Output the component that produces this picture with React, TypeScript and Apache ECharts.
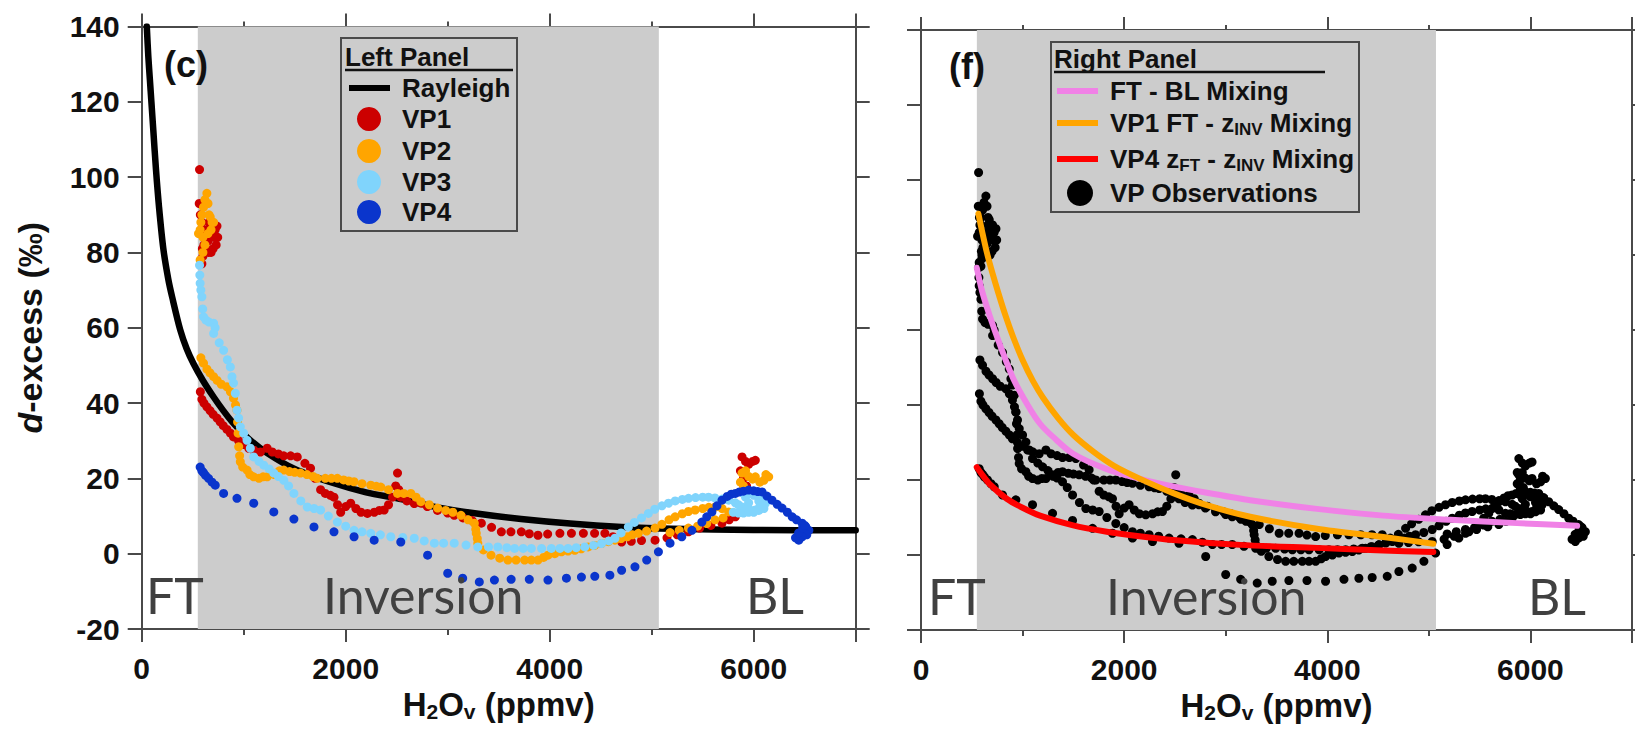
import { useEffect, useRef } from "react";
import * as echarts from "echarts";

// ---------- data (H2Ov ppmv, d-excess ‰) ----------
const X_MIN = 0;
const X_MAX = 7000;
const Y_MIN = -20;
const Y_MAX = 140;
const inversionZone = [550, 5070];

const rayleigh = [
  [50, 140], [65, 132], [80, 126], [95, 120], [115, 112], [140, 102], [170, 92], [212, 81], [260, 73],
  [300, 68], [377, 59.5], [440, 54.5], [507, 50.5], [600, 46], [705, 41.6], [800, 38], [900, 34.6],
  [1050, 30.5], [1230, 26.7], [1500, 22.5], [1885, 18.7], [2200, 16.3], [2540, 14.5], [2900, 12.3],
  [3300, 10.6], [3720, 9.2], [4200, 8], [4705, 7.1], [5200, 6.6], [6000, 6.3], [7000, 6.2],
];

const vp1 = [
  [567, 102], [564, 93], [575, 90], [590, 88], [610, 86], [625, 84], [640, 86], [660, 88], [690, 87], [720, 86],
  [738, 87], [745, 84], [730, 82], [700, 81], [680, 80], [655, 80], [630, 81], [610, 82], [595, 81], [590, 77],
  [600, 79], [650, 83], [710, 84],
  [575, 43], [590, 41], [610, 40], [639, 39], [670, 38], [700, 37], [738, 36], [770, 35], [800, 34], [836, 33],
  [870, 32], [900, 31], [950, 30], [1000, 29], [1050, 28], [1100, 27.5], [1164, 27], [1230, 28], [1280, 27],
  [1340, 26.5], [1393, 26], [1460, 26], [1525, 25.7], [1600, 24], [1655, 22.7], [1700, 20], [1754, 17],
  [1800, 16], [1850, 15.5], [1885, 15], [1920, 13], [1951, 11], [2000, 12.5], [2049, 13.4], [2100, 12],
  [2150, 11], [2213, 10.7], [2280, 11], [2330, 11.5], [2377, 11.6], [2420, 13], [2460, 15], [2490, 18],
  [2508, 21.4], [2520, 17], [2540, 15], [2600, 14], [2672, 13.3], [2737, 13.4], [2800, 12.5], [2900, 11.5],
  [3000, 10.8], [3064, 10.2], [3150, 9.5], [3240, 8.8], [3330, 8.1], [3430, 7], [3526, 5.8], [3620, 5.8],
  [3722, 5.8], [3800, 5.3], [3885, 4.9], [3980, 5.2], [4100, 5.4], [4213, 5.4], [4330, 5.4], [4440, 5.4],
  [4541, 5.4], [4620, 4.5], [4705, 3.1], [4800, 3.3], [4900, 3.5], [5033, 3.6], [5150, 4.2], [5250, 5],
  [5361, 5.8], [5470, 6.8], [5580, 7.5], [5689, 8.1], [5760, 9], [5820, 9.8],
  [5870, 22], [5886, 25.7], [5920, 24.5], [5950, 23.7], [5990, 24.5], [6016, 24.8], [5900, 20], [5930, 18],
];

const vp2 = [
  [557, 85], [573, 86], [580, 88], [590, 90], [606, 92], [620, 94], [639, 95.7], [650, 93], [660, 90], [672, 89.4],
  [690, 88], [705, 88], [680, 86], [650, 85], [600, 84], [573, 78], [600, 80], [620, 82],
  [580, 52], [606, 50.6], [640, 49], [670, 48], [705, 47], [740, 46], [780, 45], [836, 44.3], [870, 43],
  [900, 41.3], [920, 39.5], [934, 38.1], [940, 35], [945, 32], [951, 28.4], [960, 26], [967, 24.4], [990, 23],
  [1033, 22.2], [1060, 21], [1098, 20.4], [1150, 20], [1190, 20.4], [1230, 20.4], [1300, 21], [1350, 22],
  [1393, 22.2], [1450, 21.8], [1500, 21.6], [1557, 21.4], [1620, 21], [1680, 20.5], [1721, 20], [1800, 20],
  [1860, 20], [1918, 20], [1980, 19.6], [2030, 19.3], [2082, 19.1], [2160, 18.6], [2246, 18.2], [2300, 17.9],
  [2344, 17.7], [2420, 17], [2508, 16], [2570, 16], [2639, 16], [2690, 15], [2737, 13.8], [2820, 13],
  [2901, 12.1], [2980, 11.5], [3050, 11], [3130, 10.2], [3200, 9], [3261, 8.1], [3275, 6.5], [3280, 5.4],
  [3290, 4], [3295, 2.8], [3350, 1], [3425, -0.4], [3510, -1.2], [3590, -1.7], [3670, -1.7], [3754, -1.7],
  [3820, -1.7], [3885, -1.7], [3940, -1], [3983, -0.4], [4050, 0], [4115, 0.5], [4180, 0.7], [4246, 0.9],
  [4310, 1.3], [4377, 1.8], [4440, 2.2], [4508, 2.7], [4575, 3.2], [4640, 3.6],
  [4700, 4], [4760, 4.5], [4810, 5], [4869, 5.4], [4950, 6], [5033, 6.8], [5100, 7.8], [5170, 9], [5230, 9.8],
  [5300, 10.6], [5360, 11.2], [5426, 11.6], [5500, 12], [5560, 12.3], [5623, 12.4], [5690, 12], [5754, 11.1],
  [5700, 9.5], [5620, 9], [5540, 8], [5450, 7.3], [5360, 6.8], [5270, 6.2], [5180, 5.6],
  [5870, 19], [5886, 21.4], [5920, 22], [5950, 20.5], [5990, 19.8], [6016, 20.4], [6060, 19], [6100, 19.5],
  [6147, 20.4], [6120, 21], [5900, 18],
];

const vp3 = [
  [567, 76.6], [570, 74], [573, 71.8], [580, 70], [590, 68.2], [598, 65], [606, 62.9], [630, 62], [660, 61.5],
  [705, 61.2], [720, 60], [705, 58.5], [760, 56], [803, 54], [840, 51.5], [869, 49.6], [885, 47], [900, 45.3],
  [918, 42.6], [934, 38.1], [950, 36], [967, 33.7], [1000, 32], [1033, 30.1], [1065, 28], [1098, 25.7],
  [1150, 24.5], [1197, 23.5], [1250, 22.5], [1295, 21.4], [1340, 20.5], [1393, 19.5], [1440, 18], [1492, 16],
  [1560, 14], [1623, 12.4], [1690, 12], [1754, 11.6], [1830, 10], [1918, 8.4], [2000, 7.3], [2082, 6.2],
  [2160, 5.8], [2246, 5.4], [2340, 5], [2442, 4.5], [2560, 4.3], [2672, 4.1], [2770, 3.4], [2869, 2.8],
  [2960, 2.8], [3064, 2.8], [3180, 2.3], [3295, 1.8], [3400, 1.8], [3492, 1.8], [3580, 1.6], [3656, 1.4],
  [3740, 1.4], [3820, 1.4], [3920, 1.4], [4016, 1.4], [4100, 1.4], [4180, 1.4], [4260, 1.6], [4344, 1.8],
  [4430, 2.2], [4508, 2.7], [4580, 3.4], [4640, 4.1],
  [4700, 5.5], [4771, 7.1], [4830, 8.3], [4900, 9.5], [4967, 10.7], [5030, 11.8], [5100, 12.7], [5164, 13.4],
  [5230, 14], [5300, 14.4], [5361, 14.7], [5430, 14.9], [5500, 15], [5557, 15], [5620, 14.8], [5690, 14.5],
  [5754, 14.2], [5820, 13.5], [5886, 12.4], [5950, 12], [6016, 11.6], [6060, 12.5], [6115, 13.4], [6080, 15],
  [6000, 15.5], [5920, 15], [5850, 13], [5950, 13.5], [6050, 14],
  [5800, 11], [5850, 10.8], [5900, 10.8], [5950, 11], [6000, 11], [6050, 11.5], [6100, 12], [5900, 16],
  [5950, 16.2], [6000, 16], [6050, 15.5], [6100, 14.5],
];

const vp4 = [
  [573, 23], [590, 22], [606, 21.5], [625, 20.8], [655, 20], [690, 19], [721, 18.2], [803, 16], [934, 14.7],
  [1098, 13.4], [1295, 11.1], [1492, 9.2], [1689, 7.1], [1885, 5.8], [2082, 4.5], [2279, 3.6], [2540, 3.1],
  [2803, -0.4], [3000, -5.2], [3147, -6.5], [3310, -7.5], [3458, -7], [3622, -6.8], [3800, -6.8], [3983, -7],
  [4164, -6.5], [4311, -6.2], [4442, -6], [4590, -5.7], [4705, -4.4], [4836, -3.5], [4951, -1.7], [5066, 0.5],
  [5180, 2.8], [5295, 4.5], [5394, 6.2], [5492, 8.4],
  [5540, 9.8], [5590, 11.1], [5640, 12.7], [5689, 14.2], [5740, 15.2], [5780, 15.8], [5820, 16], [5860, 16.4],
  [5900, 16.6], [5951, 16.9], [6000, 16.7], [6040, 16.5], [6082, 16.4], [6130, 15.3], [6180, 14.2], [6230, 13.1],
  [6278, 12.1], [6330, 11], [6377, 9.8], [6420, 9], [6475, 8.1], [6510, 7.2], [6541, 6.2], [6520, 5],
  [6475, 4.5], [6442, 3.6], [6410, 4.2], [6440, 5.5], [6480, 6.8], [6500, 7.5],
];

const ftBlMixing = [
  [549, 76.6], [600, 70.5], [680, 63.5], [778, 56], [909, 47], [1050, 40], [1172, 35], [1300, 31.5], [1498, 27],
  [1829, 22.9], [2158, 20.3], [2483, 18.3], [2814, 16.6], [3241, 14.6], [3898, 12.3], [4552, 10.5],
  [5212, 9.4], [5869, 8.5], [6460, 7.8],
];

const vp1FtZinvMixing = [
  [565, 91], [600, 86.5], [650, 80.5], [700, 75.5], [760, 70], [830, 64], [909, 58], [1000, 52], [1100, 46.5],
  [1200, 42], [1350, 36.5], [1500, 32], [1700, 27.5], [1900, 23.8], [2158, 20.3], [2483, 16.5], [2814, 13.3],
  [3241, 10.2], [3898, 7], [4552, 4.8], [5044, 3],
];

const vp4ZftZinvMixing = [
  [549, 23.4], [600, 21.5], [680, 18.8], [844, 15], [1000, 12.6], [1172, 10.5], [1498, 7.9], [1829, 6.2],
  [2150, 5], [2483, 4], [3143, 2.7], [3898, 1.9], [4552, 1.2], [5044, 0.8],
];

const leftLegendItems = ["VP1", "VP2", "VP3", "VP4"];
const vpColors = ["#cc0000", "#ffa500", "#80d4fc", "#0a35cc"];

// ---------- styles ----------
const FONT = "Liberation Sans, Arial, Helvetica, sans-serif";
const AXIS_COLOR = "#4a4a4a";
const GRAY = "#cccccc";

function xAxesFor(gridIndex: number) {
  const base = {
    type: "value",
    gridIndex,
    min: X_MIN,
    max: X_MAX,
    splitLine: { show: false },
    axisLine: { onZero: false, show: true, lineStyle: { color: AXIS_COLOR, width: 2 } },
  };
  return [
    {
      ...base,
      position: "bottom",
      interval: 2000,
      axisTick: { show: true, length: 13, lineStyle: { color: AXIS_COLOR, width: 2 } },
      axisLabel: {
        show: true,
        margin: 24,
        fontSize: 30,
        fontWeight: "bold",
        fontFamily: FONT,
        color: "#111",
        formatter: (v: number) => (v % 2000 === 0 ? String(v) : ""),
      },
      name: "{b|H}{s|2}{b|O}{s|v}{b| (ppmv)}",
      nameLocation: "middle",
      nameGap: 54,
      nameTextStyle: {
        rich: {
          b: { fontSize: 33, fontWeight: "bold", fontFamily: FONT, color: "#111", lineHeight: 36 },
          s: { fontSize: 21, fontWeight: "bold", fontFamily: FONT, color: "#111", lineHeight: 12, verticalAlign: "bottom" },
        },
      },
    },
    {
      ...base,
      position: "bottom",
      interval: 1000,
      axisLine: { onZero: false, show: false },
      axisTick: { show: true, length: 6, lineStyle: { color: AXIS_COLOR, width: 2 } },
      axisLabel: { show: false },
    },
    {
      ...base,
      position: "top",
      interval: 2000,
      axisTick: { show: true, length: 13, lineStyle: { color: AXIS_COLOR, width: 2 } },
      axisLabel: { show: false },
    },
    {
      ...base,
      position: "top",
      interval: 1000,
      axisLine: { onZero: false, show: false },
      axisTick: { show: true, length: 5, lineStyle: { color: AXIS_COLOR, width: 2 } },
      axisLabel: { show: false },
    },
  ];
}

function yAxesFor(gridIndex: number, withLabels: boolean) {
  const base = {
    type: "value",
    gridIndex,
    min: Y_MIN,
    max: Y_MAX,
    interval: 20,
    splitLine: { show: false },
    axisLine: { onZero: false, show: true, lineStyle: { color: AXIS_COLOR, width: 2 } },
    axisTick: { show: true, length: 14, lineStyle: { color: AXIS_COLOR, width: 2 } },
  };
  const left: any = {
    ...base,
    position: "left",
    axisLabel: withLabels
      ? { show: true, margin: 22, fontSize: 30, fontWeight: "bold", fontFamily: FONT, color: "#111" }
      : { show: false },
  };
  if (withLabels) {
    left.name = "{i|d}{n|-excess (‰)}";
    left.nameLocation = "middle";
    left.nameRotate = 90;
    left.nameGap = 95;
    left.nameTextStyle = {
      rich: {
        i: { fontSize: 34, fontWeight: "bold", fontStyle: "italic", fontFamily: FONT, color: "#111" },
        n: { fontSize: 34, fontWeight: "bold", fontFamily: FONT, color: "#111" },
      },
    };
  }
  const right = { ...base, position: "right", axisLabel: { show: false } };
  return [left, right];
}

function zoneSeries(xAxisIndex: number, yAxisIndex: number) {
  return {
    type: "scatter",
    xAxisIndex,
    yAxisIndex,
    data: [],
    silent: true,
    z: 0,
    markArea: {
      silent: true,
      itemStyle: { color: GRAY, opacity: 1 },
      data: [[{ xAxis: inversionZone[0] }, { xAxis: inversionZone[1] }]],
    },
  };
}

function scatter(data: number[][], color: string, xAxisIndex: number, yAxisIndex: number, name: string) {
  return {
    type: "scatter",
    name,
    xAxisIndex,
    yAxisIndex,
    data,
    symbol: "circle",
    symbolSize: 9,
    itemStyle: { color, opacity: 1 },
    silent: true,
    z: 3,
  };
}

function curve(data: number[][], color: string, width: number, xAxisIndex: number, yAxisIndex: number, name: string, z: number) {
  return {
    type: "line",
    name,
    xAxisIndex,
    yAxisIndex,
    data,
    showSymbol: false,
    smooth: 0.3,
    lineStyle: { color, width, cap: "round", join: "round" },
    silent: true,
    z,
  };
}

function regionLabel(text: string, x: number, y: number) {
  return {
    type: "text",
    x,
    y,
    z: 50,
    style: { text, fontSize: 50, fontFamily: "Lato, Open Sans, sans-serif", fill: "#404040", verticalAlign: "middle" },
  };
}

function boldText(text: string, x: number, y: number, size: number) {
  return {
    type: "text",
    x,
    y,
    z: 101,
    style: { text, fontSize: size, fontWeight: "bold", fontFamily: FONT, fill: "#111", verticalAlign: "middle" },
  };
}

function buildGraphics() {
  const g: any[] = [];
  // panel tags
  g.push(boldText("(c)", 164, 64, 36));
  g.push(boldText("(f)", 949, 66, 36));
  // region labels
  g.push(regionLabel("FT", 146, 595));
  g.push(regionLabel("Inversion", 323, 595));
  g.push(regionLabel("BL", 746, 595));
  g.push(regionLabel("FT", 928, 596));
  g.push(regionLabel("Inversion", 1106, 596));
  g.push(regionLabel("BL", 1528, 596));

  // left legend
  g.push({ type: "rect", z: 100, shape: { x: 341, y: 38, width: 176, height: 193 }, style: { fill: GRAY, stroke: "#4a4a4a", lineWidth: 2 } });
  g.push(boldText("Left Panel", 345, 57, 26));
  g.push({ type: "line", z: 101, shape: { x1: 345, y1: 70, x2: 513, y2: 70 }, style: { stroke: "#111", lineWidth: 2.5 } });
  g.push({ type: "line", z: 101, shape: { x1: 349, y1: 88, x2: 390, y2: 88 }, style: { stroke: "#000", lineWidth: 6 } });
  g.push(boldText("Rayleigh", 402, 88, 26));
  const rows = [119, 151, 182, 212];
  leftLegendItems.forEach((name, i) => {
    g.push({ type: "circle", z: 101, shape: { cx: 369, cy: rows[i], r: 12 }, style: { fill: vpColors[i] } });
    g.push(boldText(name, 402, rows[i], 26));
  });

  // right legend
  g.push({ type: "rect", z: 100, shape: { x: 1051, y: 42, width: 308, height: 170 }, style: { fill: GRAY, stroke: "#4a4a4a", lineWidth: 2 } });
  g.push(boldText("Right Panel", 1054, 59, 26));
  g.push({ type: "line", z: 101, shape: { x1: 1054, y1: 72, x2: 1325, y2: 72 }, style: { stroke: "#111", lineWidth: 2.5 } });
  const lineRows = [
    { y: 91, color: "#f081e6" },
    { y: 123, color: "#ffa500" },
    { y: 159, color: "#ff0000" },
  ];
  lineRows.forEach((r) => {
    g.push({ type: "line", z: 101, shape: { x1: 1057, y1: r.y, x2: 1098, y2: r.y }, style: { stroke: r.color, lineWidth: 6 } });
  });
  const rich = {
    n: { fontSize: 26, fontWeight: "bold", fontFamily: FONT, fill: "#111", lineHeight: 30 },
    s: { fontSize: 17, fontWeight: "bold", fontFamily: FONT, fill: "#111", lineHeight: 10, verticalAlign: "bottom" },
  };
  g.push(boldText("FT - BL Mixing", 1110, 91, 26));
  g.push({ type: "text", x: 1110, y: 123, z: 101, style: { text: "{n|VP1 FT - z}{s|INV}{n| Mixing}", rich, verticalAlign: "middle" } });
  g.push({ type: "text", x: 1110, y: 159, z: 101, style: { text: "{n|VP4 z}{s|FT}{n| - z}{s|INV}{n| Mixing}", rich, verticalAlign: "middle" } });
  g.push({ type: "circle", z: 101, shape: { cx: 1080, cy: 193, r: 13 }, style: { fill: "#000" } });
  g.push(boldText("VP Observations", 1110, 193, 26));
  return g;
}

export default function App() {
  const ref = useRef<HTMLDivElement>(null);
  useEffect(() => {
    if (!ref.current) return;
    const chart = echarts.init(ref.current, undefined, { renderer: "svg" });
    const allObs = [...vp1, ...vp2, ...vp3, ...vp4];
    const option: any = {
      animation: false,
      backgroundColor: "#ffffff",
      grid: [
        { left: 141.7, top: 26.5, width: 714, height: 602.5, containLabel: false },
        { left: 921, top: 30, width: 711, height: 600, containLabel: false },
      ],
      xAxis: [...xAxesFor(0), ...xAxesFor(1)],
      yAxis: [...yAxesFor(0, true), ...yAxesFor(1, false)],
      series: [
        zoneSeries(0, 0),
        curve(rayleigh, "#000000", 6.5, 0, 0, "Rayleigh", 2),
        scatter(vp1, vpColors[0], 0, 0, "VP1"),
        scatter(vp2, vpColors[1], 0, 0, "VP2"),
        scatter(vp3, vpColors[2], 0, 0, "VP3"),
        scatter(vp4, vpColors[3], 0, 0, "VP4"),
        zoneSeries(4, 2),
        scatter(allObs, "#000000", 4, 2, "VP Observations"),
        curve(ftBlMixing, "#f081e6", 6, 4, 2, "FT - BL Mixing", 4),
        curve(vp1FtZinvMixing, "#ffa500", 6, 4, 2, "VP1 FT - zINV Mixing", 4),
        curve(vp4ZftZinvMixing, "#ff0000", 6, 4, 2, "VP4 zFT - zINV Mixing", 4),
      ],
      graphic: buildGraphics(),
    };
    chart.setOption(option);
    return () => chart.dispose();
  }, []);
  return (
    <div
      ref={ref}
      style={{ position: "fixed", left: 0, top: 0, width: 1635, height: 736, background: "#fff" }}
    />
  );
}
